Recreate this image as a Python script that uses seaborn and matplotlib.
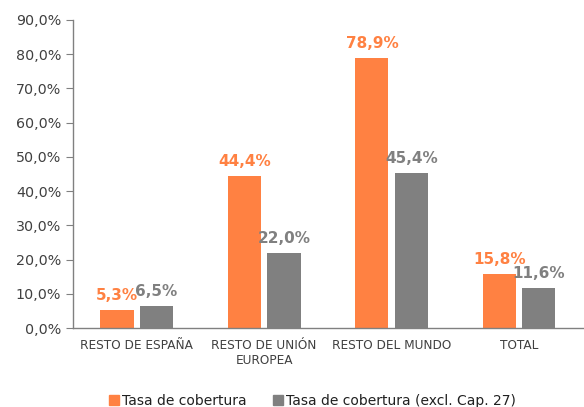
import pandas as pd
import numpy as np
import matplotlib.pyplot as plt
import seaborn as sns
from matplotlib.ticker import FuncFormatter, FixedLocator

categories = ['RESTO DE ESPAÑA', 'RESTO DE UNIÓN\nEUROPEA', 'RESTO DEL MUNDO', 'TOTAL']
series_names = ['Tasa de cobertura', 'Tasa de cobertura (excl. Cap. 27)']
tasa = [5.3, 44.4, 78.9, 15.8]
tasa_excl = [6.5, 22.0, 45.4, 11.6]

orange = '#FF8142'
gray = '#808080'
text_col = '#404040'

df = pd.DataFrame({
    'cat': categories * 2,
    'serie': [series_names[0]] * 4 + [series_names[1]] * 4,
    'valor': tasa + tasa_excl,
})

sns.set_style('white')
plt.rcParams['font.family'] = ['DejaVu Sans']

fig = plt.figure(figsize=(5.84, 4.07), dpi=100)
ax = fig.add_axes([0.125, 0.194, 0.873, 0.757])

sns.barplot(data=df, x='cat', y='valor', hue='serie', order=categories,
            hue_order=series_names, palette=[orange, gray],
            width=0.62, gap=0.16, saturation=1, linewidth=0, ax=ax, legend=True)

# etiquetas de valor
for container, col in zip(ax.containers, [orange, gray]):
    labels = [f'{v:.1f}%'.replace('.', ',') for v in container.datavalues]
    ax.bar_label(container, labels=labels, color=col, fontsize=11,
                 fontweight='bold', padding=5)

ax.set_ylim(0, 90)
ax.set_xlim(-0.5, 3.5)
ax.set_yticks(np.arange(0, 91, 10))
ax.yaxis.set_major_formatter(FuncFormatter(lambda v, p: f'{v:.1f}%'.replace('.', ',')))
ax.set_xlabel('')
ax.set_ylabel('')

ax.xaxis.set_minor_locator(FixedLocator(np.arange(-0.5, 3.6, 1)))
ax.tick_params(axis='x', which='major', length=0, labelsize=8.7, labelcolor=text_col, pad=8)
ax.tick_params(axis='x', which='minor', length=5, color=gray, direction='out')
ax.tick_params(axis='y', length=5, color=gray, direction='out', labelsize=10.3,
               labelcolor=text_col, left=True)

for s in ['top', 'right']:
    ax.spines[s].set_visible(False)
for s in ['left', 'bottom']:
    ax.spines[s].set_color(gray)
    ax.spines[s].set_linewidth(1)

ax.get_legend().remove()
handles = [plt.Rectangle((0, 0), 1, 1, color=orange), plt.Rectangle((0, 0), 1, 1, color=gray)]
fig.legend(handles, series_names, loc='lower center', bbox_to_anchor=(0.535, -0.032),
           ncol=2, frameon=False, fontsize=10, handlelength=0.7, handleheight=0.7,
           handletextpad=0.2, columnspacing=1.9, labelcolor='#202020')

fig.savefig('out.png', dpi=100)
